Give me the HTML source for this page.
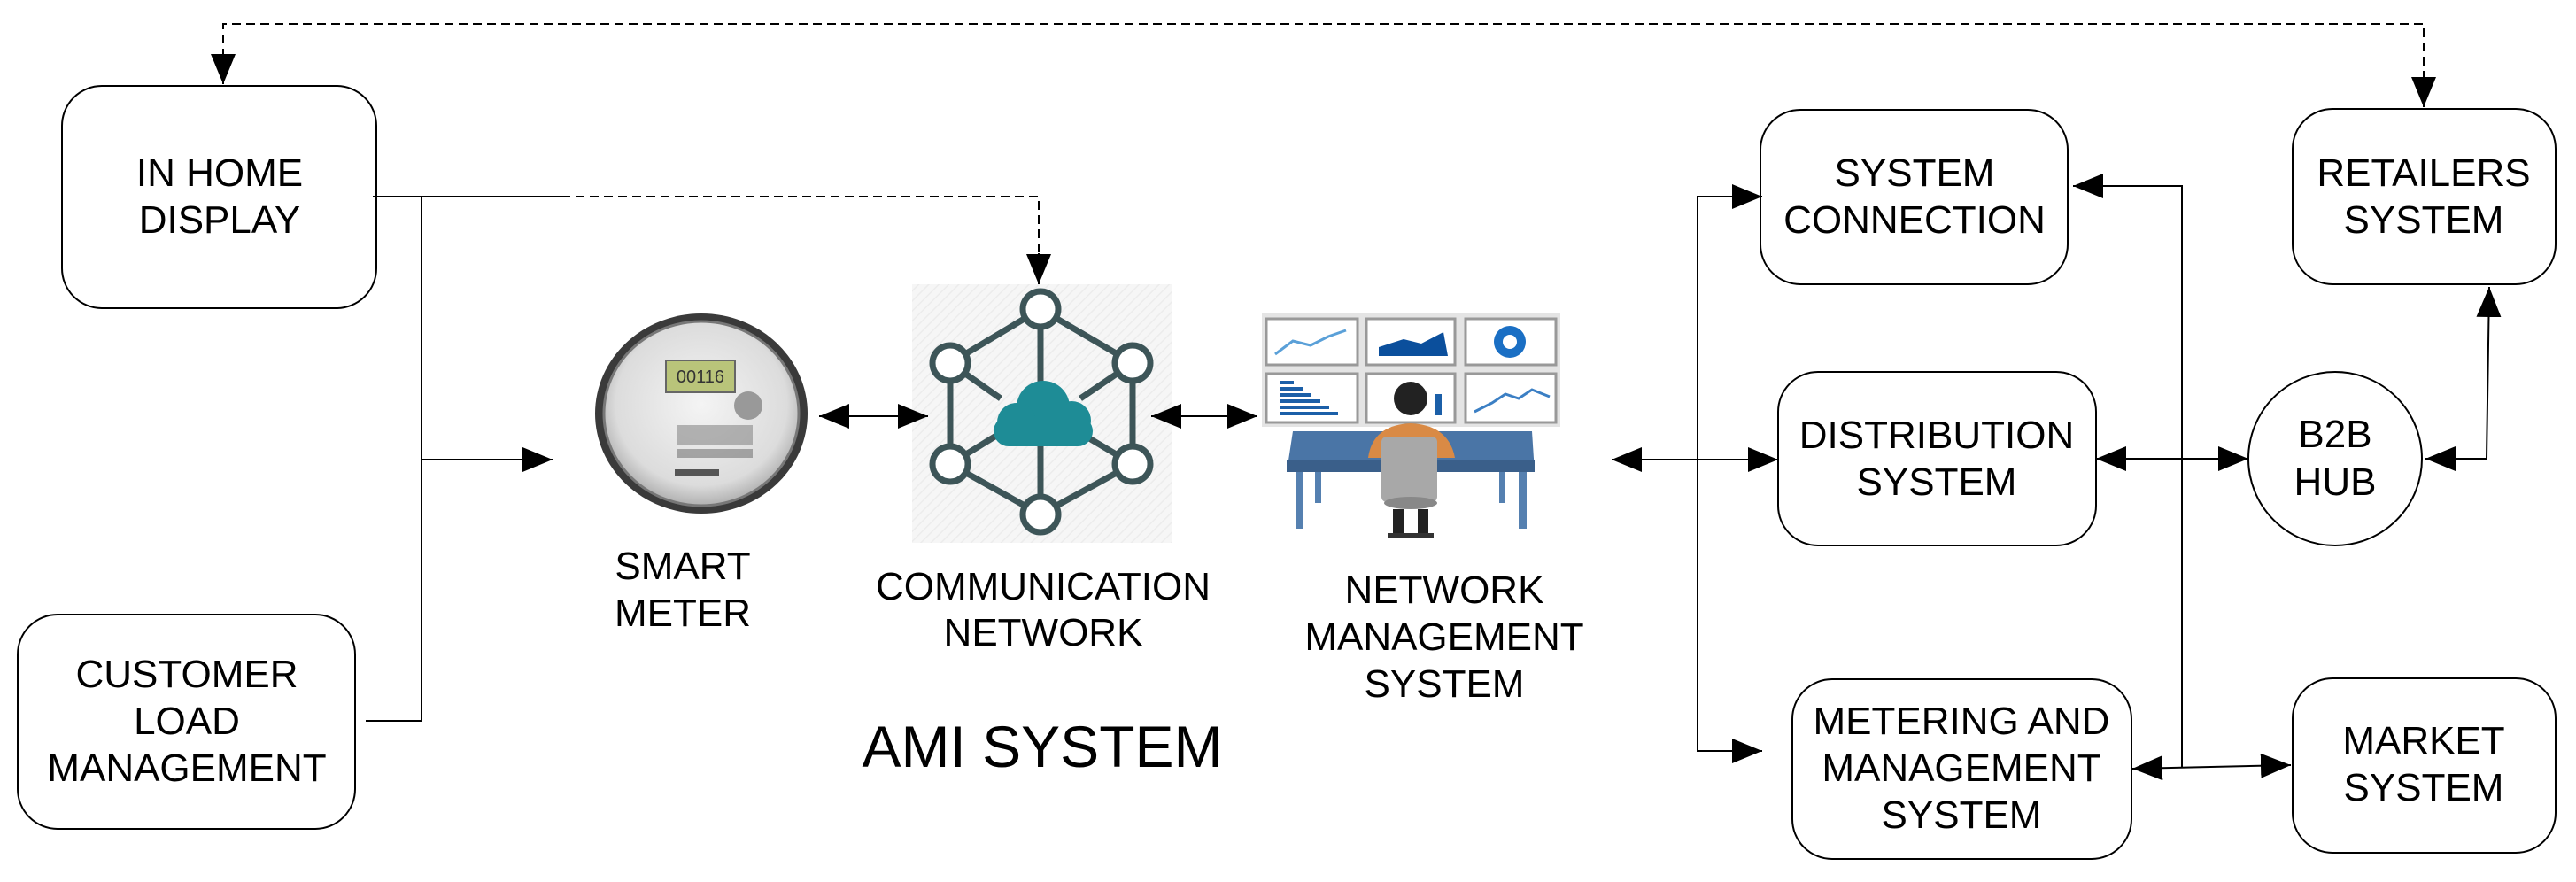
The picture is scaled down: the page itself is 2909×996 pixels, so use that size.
<!DOCTYPE html>
<html><head><meta charset="utf-8"><style>
html,body{margin:0;padding:0;background:#fff;}
svg{display:block;}
text{font-family:"Liberation Sans",Arial,sans-serif;fill:#000;}
</style></head><body>
<svg width="2909" height="996" viewBox="0 0 2909 996" xmlns="http://www.w3.org/2000/svg">
<defs>
<marker id="a" markerWidth="34" markerHeight="28" refX="34" refY="14" orient="auto" markerUnits="userSpaceOnUse"><path d="M0,0 L34,14 L0,28 Z" fill="#000"/></marker>
<marker id="s" markerWidth="34" markerHeight="28" refX="0" refY="14" orient="auto" markerUnits="userSpaceOnUse"><path d="M34,0 L0,14 L34,28 Z" fill="#000"/></marker>
<radialGradient id="mg" cx="50%" cy="45%" r="55%"><stop offset="0" stop-color="#f4f4f4"/><stop offset="0.8" stop-color="#dcdcdc"/><stop offset="1" stop-color="#b0b0b0"/></radialGradient>
<pattern id="hatch" width="8" height="8" patternUnits="userSpaceOnUse" patternTransform="rotate(45)"><rect width="8" height="8" fill="#f6f6f6"/><line x1="0" y1="0" x2="0" y2="8" stroke="#ececec" stroke-width="3"/></pattern>
</defs>
<!-- meter -->
<ellipse cx="792" cy="467" rx="120" ry="113" fill="#3a3a3a"/>
<ellipse cx="792" cy="467" rx="110" ry="104" fill="url(#mg)" stroke="#777" stroke-width="3"/>
<rect x="752" y="407" width="78" height="36" fill="#b9c47a" stroke="#666" stroke-width="2"/>
<text x="791" y="432" font-size="20" text-anchor="middle" style="fill:#333">00116</text>
<circle cx="845" cy="458" r="16" fill="#999"/>
<rect x="765" y="480" width="85" height="22" fill="#888" opacity="0.6"/>
<rect x="765" y="507" width="85" height="10" fill="#777" opacity="0.6"/>
<rect x="762" y="530" width="50" height="8" fill="#555"/>
<!-- comm network -->
<rect x="1030" y="321" width="293" height="292" fill="url(#hatch)"/>
<g stroke="#3d5558" stroke-width="7" fill="none">
<line x1="1175" y1="349" x2="1073" y2="410"/><line x1="1175" y1="349" x2="1279" y2="410"/>
<line x1="1073" y1="410" x2="1073" y2="524"/><line x1="1279" y1="410" x2="1279" y2="524"/>
<line x1="1073" y1="524" x2="1175" y2="581"/><line x1="1279" y1="524" x2="1175" y2="581"/>
<line x1="1175" y1="349" x2="1175" y2="440"/><line x1="1175" y1="500" x2="1175" y2="581"/>
<line x1="1073" y1="410" x2="1130" y2="450"/><line x1="1279" y1="410" x2="1220" y2="450"/>
<line x1="1073" y1="524" x2="1125" y2="492"/><line x1="1279" y1="524" x2="1225" y2="492"/>
<g fill="#fff">
<circle cx="1175" cy="349" r="20"/><circle cx="1073" cy="410" r="20"/><circle cx="1279" cy="410" r="20"/>
<circle cx="1073" cy="524" r="20"/><circle cx="1279" cy="524" r="20"/><circle cx="1175" cy="581" r="20"/>
</g></g>
<g fill="#1e8c96">
<circle cx="1178" cy="460" r="30"/><circle cx="1148" cy="477" r="22"/><circle cx="1210" cy="475" r="22"/>
<rect x="1122" y="470" width="112" height="34" rx="17"/>
</g>
<!-- NMS -->
<rect x="1425" y="353" width="337" height="129" fill="#e4e4e4"/>
<g fill="#fff" stroke="#999" stroke-width="3">
<rect x="1430" y="360" width="103" height="52"/><rect x="1543" y="360" width="100" height="52"/><rect x="1655" y="360" width="102" height="52"/>
<rect x="1430" y="422" width="103" height="55"/><rect x="1543" y="422" width="100" height="55"/><rect x="1655" y="422" width="102" height="55"/>
</g>
<polyline points="1440,400 1460,385 1480,390 1500,380 1520,373" fill="none" stroke="#5aa0d8" stroke-width="3"/>
<path d="M1557,402 L1557,392 L1585,383 L1605,388 L1630,375 L1635,402 Z" fill="#0b4f9c"/>
<circle cx="1705" cy="386" r="18" fill="#1a6fc4"/><circle cx="1705" cy="386" r="8" fill="#fff"/>
<g fill="#1b5fa8"><rect x="1446" y="430" width="15" height="4"/><rect x="1446" y="437" width="25" height="4"/><rect x="1446" y="444" width="35" height="4"/><rect x="1446" y="451" width="45" height="4"/><rect x="1446" y="458" width="55" height="4"/><rect x="1446" y="465" width="65" height="4"/></g>
<rect x="1620" y="445" width="8" height="24" fill="#1b5fa8"/>
<polyline points="1665,465 1685,455 1700,445 1715,450 1730,440 1750,448" fill="none" stroke="#3b7fc4" stroke-width="3"/>
<path d="M1460,487 L1730,487 L1733,533 L1453,533 Z" fill="#4a75a6"/>
<rect x="1453" y="520" width="280" height="13" fill="#3a5f8a"/>
<g fill="#5580b0"><rect x="1463" y="533" width="9" height="64"/><rect x="1715" y="533" width="9" height="64"/><rect x="1485" y="533" width="7" height="35"/><rect x="1693" y="533" width="7" height="35"/></g>
<path d="M1545,517 Q1550,480 1593,478 Q1636,480 1643,517 Z" fill="#d98a45"/>
<circle cx="1593" cy="450" r="19" fill="#222"/>
<rect x="1560" y="493" width="63" height="74" rx="6" fill="#a8a8a8"/>
<ellipse cx="1593" cy="568" rx="30" ry="7" fill="#888"/>
<rect x="1573" y="575" width="12" height="28" fill="#222"/><rect x="1601" y="575" width="12" height="28" fill="#222"/>
<line x1="1567" y1="605" x2="1619" y2="605" stroke="#333" stroke-width="6"/>
<g fill="none" stroke="#000" stroke-width="2">
<!-- top dashed -->
<polyline points="2737,90 2737,27 252,27 252,70" stroke-dasharray="10,6"/>
<line x1="252" y1="60" x2="252" y2="95" marker-end="url(#a)"/>
<line x1="2737" y1="88" x2="2737" y2="121" marker-end="url(#a)"/>
<!-- IHD connector -->
<line x1="421" y1="222" x2="634" y2="222"/>
<polyline points="634,222 1173,222 1173,290" stroke-dasharray="10,6"/>
<line x1="1173" y1="286" x2="1173" y2="321" marker-end="url(#a)"/>
<line x1="476" y1="222" x2="476" y2="814"/>
<line x1="413" y1="814" x2="476" y2="814"/>
<line x1="476" y1="519" x2="624" y2="519" marker-end="url(#a)"/>
<!-- meter-comm -->
<line x1="925" y1="470" x2="1048" y2="470" marker-start="url(#s)" marker-end="url(#a)"/>
<line x1="1300" y1="470" x2="1420" y2="470" marker-start="url(#s)" marker-end="url(#a)"/>
<!-- NMS bus -->
<line x1="1820" y1="519" x2="2008" y2="519" marker-start="url(#s)" marker-end="url(#a)"/>
<polyline points="1990,222 1917,222 1917,848 1990,848"/>
<line x1="1950" y1="222" x2="1990" y2="222" marker-end="url(#a)"/>
<line x1="1950" y1="848" x2="1990" y2="848" marker-end="url(#a)"/>
<!-- dist-b2b -->
<line x1="2367" y1="518" x2="2539" y2="518" marker-start="url(#s)" marker-end="url(#a)"/>
<polyline points="2739,518 2808,518 2811,324" marker-start="url(#s)" marker-end="url(#a)"/>
<!-- right vertical -->
<polyline points="2341,210 2464,210 2464,866" marker-start="url(#s)"/>
<line x1="2408" y1="868" x2="2587" y2="864" marker-start="url(#s)" marker-end="url(#a)"/>
<!-- boxes -->
<rect x="70" y="97" width="355" height="251" rx="45" ry="45"/>
<rect x="20" y="694" width="381" height="242" rx="45" ry="45"/>
<rect x="1988" y="124" width="347" height="197" rx="45" ry="45"/>
<rect x="2008" y="420" width="359" height="196" rx="45" ry="45"/>
<rect x="2024" y="767" width="383" height="203" rx="45" ry="45"/>
<rect x="2589" y="123" width="297" height="198" rx="45" ry="45"/>
<rect x="2589" y="766" width="297" height="197" rx="45" ry="45"/>
<ellipse cx="2637" cy="518" rx="98" ry="98"/>
</g>
<!-- labels -->
<g font-size="44" text-anchor="middle">
<text x="248" y="210">IN HOME</text><text x="248" y="263">DISPLAY</text>
<text x="211" y="776">CUSTOMER</text><text x="211" y="829">LOAD</text><text x="211" y="882">MANAGEMENT</text>
<text x="771" y="654">SMART</text><text x="771" y="707">METER</text>
<text x="1178" y="677">COMMUNICATION</text><text x="1178" y="729">NETWORK</text>
<text x="1631" y="681">NETWORK</text><text x="1631" y="734">MANAGEMENT</text><text x="1631" y="787">SYSTEM</text>
<text x="2162" y="210">SYSTEM</text><text x="2162" y="263">CONNECTION</text>
<text x="2187" y="506">DISTRIBUTION</text><text x="2187" y="559">SYSTEM</text>
<text x="2215" y="829">METERING AND</text><text x="2215" y="882">MANAGEMENT</text><text x="2215" y="935">SYSTEM</text>
<text x="2737" y="210">RETAILERS</text><text x="2737" y="263">SYSTEM</text>
<text x="2637" y="505">B2B</text><text x="2637" y="559">HUB</text>
<text x="2737" y="851">MARKET</text><text x="2737" y="904">SYSTEM</text>
</g>
<text x="1177" y="866" font-size="66" text-anchor="middle">AMI SYSTEM</text>
</svg>
</body></html>
